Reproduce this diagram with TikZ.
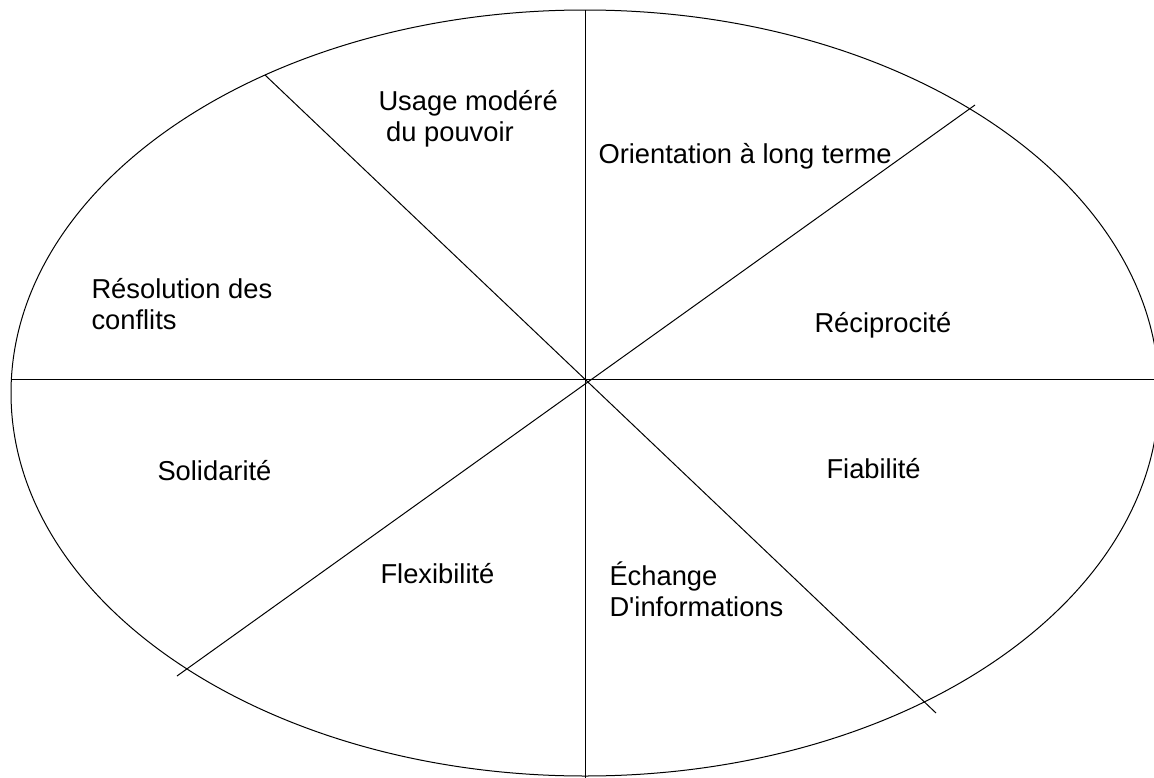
\documentclass[tikz,border=0pt]{standalone}
\usepackage{fontspec}
\setmainfont{Liberation Sans}
\usetikzlibrary{positioning}

\begin{document}
\begin{tikzpicture}[x=0.75pt, y=-0.75pt, line width=0.75pt,
    sector_label/.style ={anchor=base west, inner sep=0pt, align=left,
      font=\fontsize{20.5}{23.25}\selectfont}]
    \useasboundingbox (0,0) rectangle (1154,778);
    % outer ellipse
    \draw (585,393) ellipse [x radius=430.5pt, y radius=287.25pt];
    % dividing lines
    \coordinate (top) at (585,10);
    \coordinate (bottom) at (585,778);
    \coordinate (left) at (12,379);
    \coordinate (right) at (1154,379);
    \coordinate (nw) at (265,75);
    \coordinate (se) at (936,713);
    \coordinate (sw) at (177,676);
    \coordinate (ne) at (975,105);
    \draw (top) -- (bottom);
    \draw (left) -- (right);
    \draw (nw) -- (se);
    \draw (sw) -- (ne);
    % labels (two-line ones sit on the baseline of their last line)
    \node[sector_label] (usage) at (378,141) {Usage modéré\\\hspace*{0.28em}du pouvoir};
    \node[sector_label] (orientation) at (598,163) {Orientation à long terme};
    \node[sector_label] (resolution) at (91,329) {Résolution des\\conflits};
    \node[sector_label] (reciprocite) at (814,332) {Réciprocité};
    \node[sector_label] (solidarite) at (157,480) {Solidarité};
    \node[sector_label] (fiabilite) at (826,478) {Fiabilité};
    \node[sector_label] (flexibilite) at (380,583) {Flexibilité};
    \node[sector_label] (echange) at (609,616) {Échange\\D\textquotesingle informations};
\end{tikzpicture}
\end{document}
